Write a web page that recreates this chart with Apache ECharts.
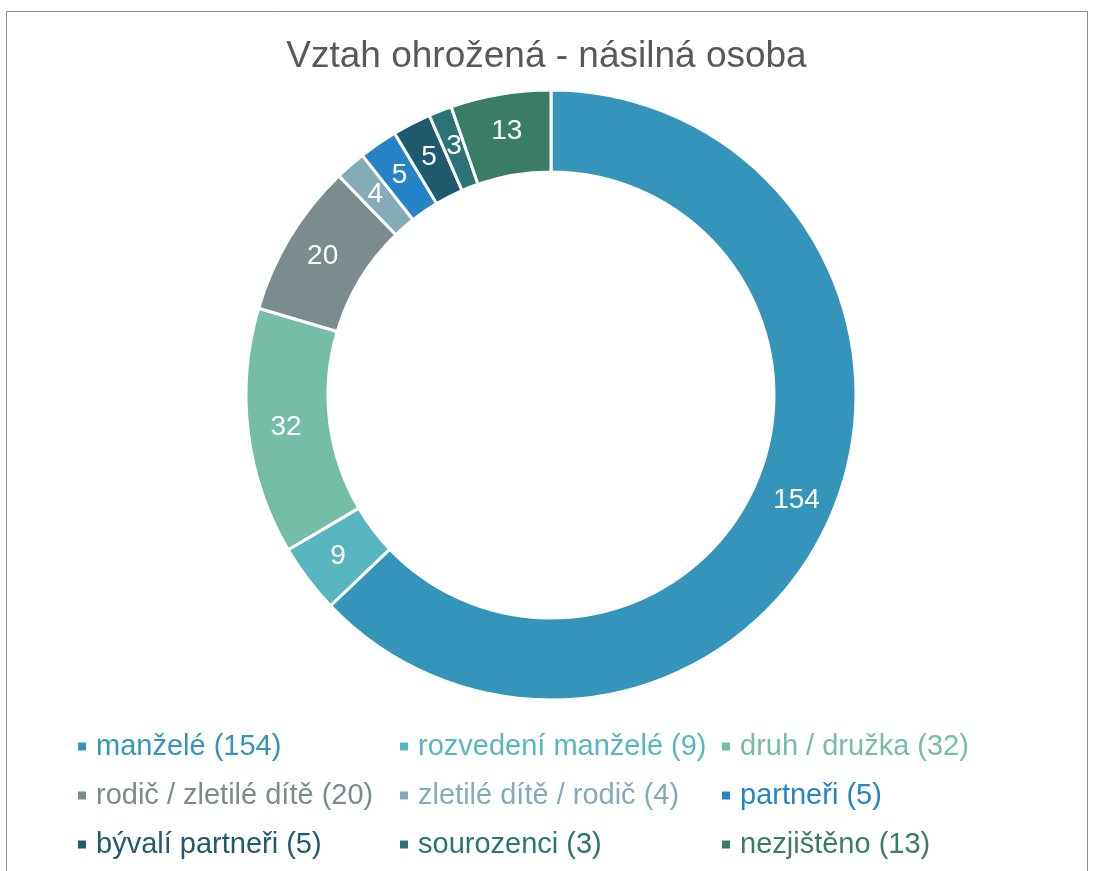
<!DOCTYPE html>
<html>
<head>
<meta charset="utf-8">
<script src="https://cdn.jsdelivr.net/npm/echarts@6/dist/echarts.min.js"></script>
<style>
  html, body { margin: 0; padding: 0; background: #fff; }
  #chart { width: 1093px; height: 871px; }
</style>
</head>
<body>
<div id="chart"></div>
<script>
var categories = ["manželé", "rozvedení manželé", "druh / družka", "rodič / zletilé dítě", "zletilé dítě / rodič", "partneři", "bývalí partneři", "sourozenci", "nezjištěno"];
var values = [154, 9, 32, 20, 4, 5, 5, 3, 13];
var colors = ["#3494BA", "#58B6C0", "#75BDA7", "#7A8C8E", "#84ACB6", "#2683C6", "#1F5A6F", "#2B7375", "#3A7C65"];

var chart = echarts.init(document.getElementById("chart"));

var pieData = categories.map(function (c, i) {
    return { name: c, value: values[i], itemStyle: { color: colors[i] } };
});

// legenda ve třech sloupcích (pořadí po řádcích)
var colLeft = [76, 398, 720];
var legends = [0, 1, 2].map(function (col) {
    var items = [];
    for (var i = col; i < categories.length; i += 3) {
        items.push({ name: categories[i], textStyle: { color: colors[i] } });
    }
    return {
        orient: "vertical",
        left: colLeft[col],
        top: 732,
        padding: 0,
        itemWidth: 10,
        itemHeight: 10,
        itemGap: 20,
        icon: "rect",
        selectedMode: false,
        data: items,
        formatter: function (name) {
            return name + " (" + values[categories.indexOf(name)] + ")";
        },
        textStyle: {
            fontFamily: "Liberation Sans, Arial, sans-serif",
            fontSize: 29,
            lineHeight: 29,
            padding: [0, 0, 0, 4]
        }
    };
});

chart.setOption({
    animation: false,
    backgroundColor: "#fff",
    title: {
        text: "Vztah ohrožená - násilná osoba",
        left: "center",
        top: 33,
        textStyle: {
            fontFamily: "Liberation Sans, Arial, sans-serif",
            fontSize: 37,
            fontWeight: "normal",
            color: "#595959"
        }
    },
    legend: legends,
    graphic: [{
        type: "rect",
        shape: { x: 6.5, y: 11.5, width: 1081, height: 900 },
        style: { fill: null, stroke: "#8c8c8c", lineWidth: 1 },
        silent: true
    }],
    series: [{
        type: "pie",
        center: [551, 395],
        radius: [223, 305],
        startAngle: 90,
        clockwise: true,
        avoidLabelOverlap: false,
        itemStyle: { borderColor: "#fff", borderWidth: 3 },
        label: {
            show: true,
            position: "inside",
            formatter: "{c}",
            color: "#fff",
            fontFamily: "Liberation Sans, Arial, sans-serif",
            fontSize: 28
        },
        labelLine: { show: false },
        emphasis: { disabled: true },
        data: pieData
    }]
});
</script>
</body>
</html>
